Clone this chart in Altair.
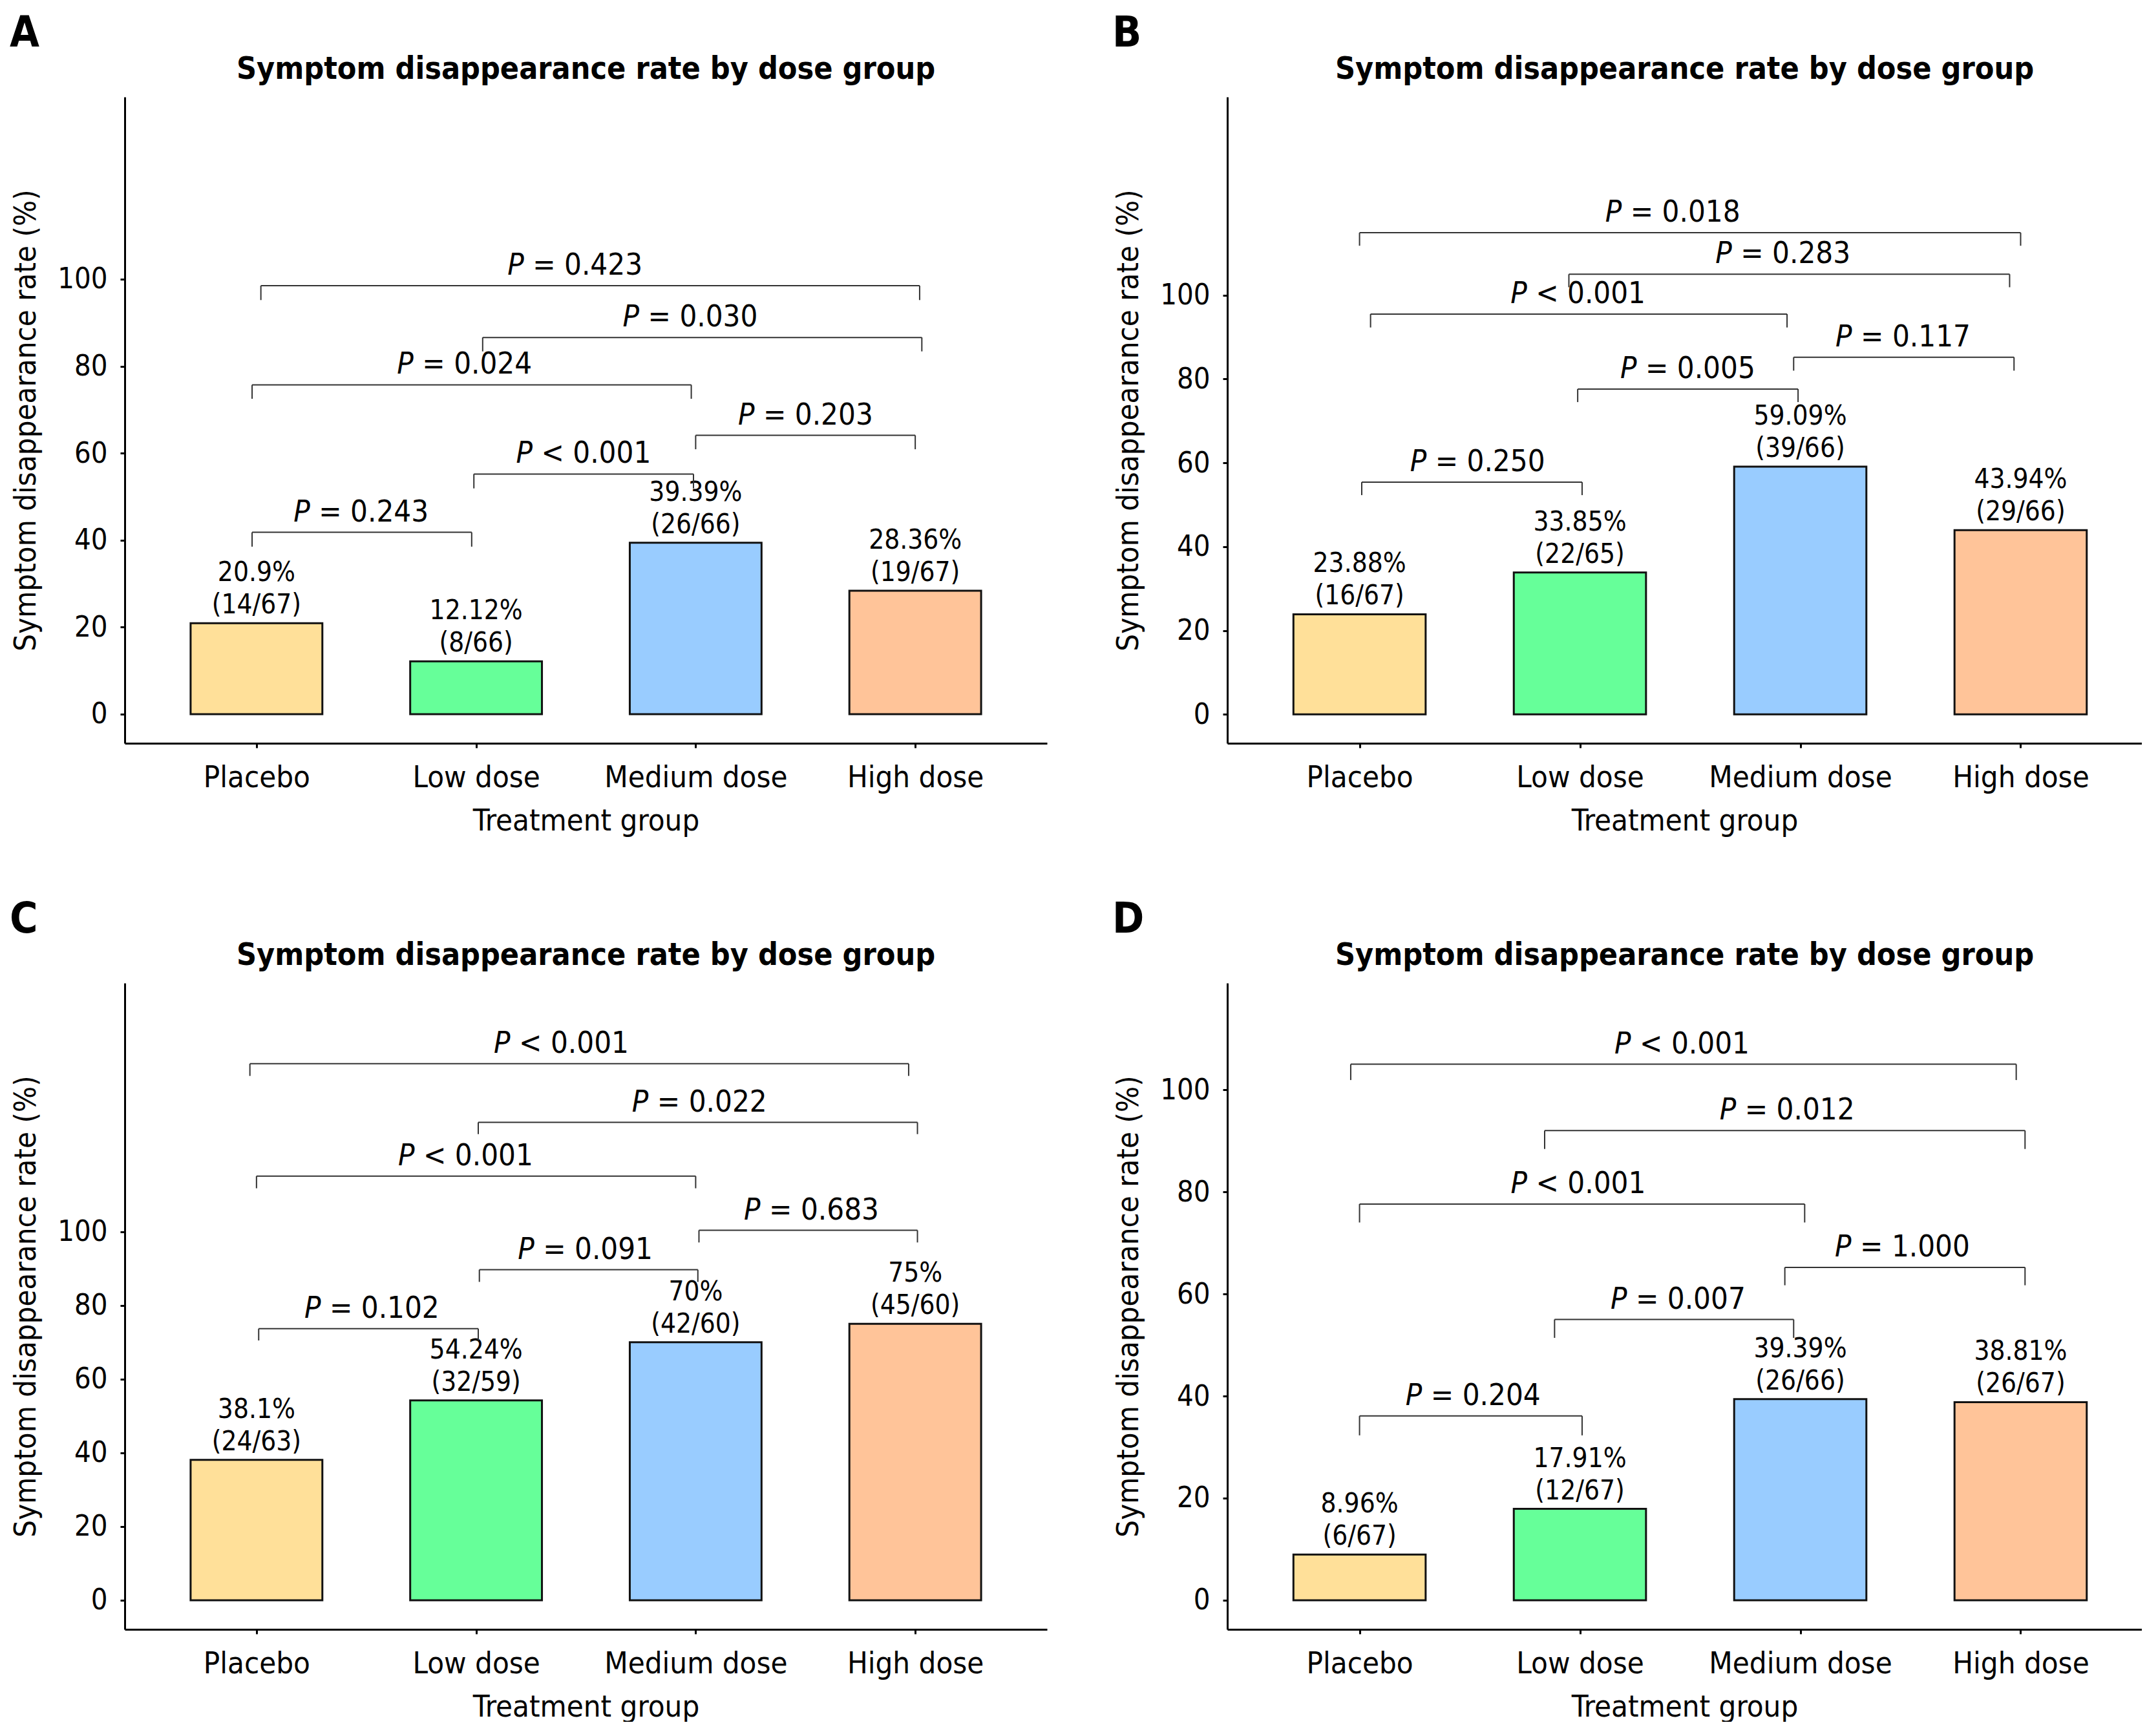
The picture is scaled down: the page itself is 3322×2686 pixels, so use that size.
import altair as alt
import pandas as pd

FONT = "DejaVu Sans Condensed, DejaVu Sans"

groups = ["Placebo", "Low dose", "Medium dose", "High dose"]
colors = ["#FFE099", "#66FF99", "#99CCFF", "#FFC499"]
title_text = "Symptom disappearance rate by dose group"
y_ticks = [0, 20, 40, 60, 80, 100]

# ---- Panel A ----
rate_a = [20.9, 12.12, 39.39, 28.36]
pct_a = ["20.9%", "12.12%", "39.39%", "28.36%"]
frac_a = ["(14/67)", "(8/66)", "(26/66)", "(19/67)"]
brx1_a = [-0.02, 0.99, 2.0, -0.02, 1.03, 0.02]
brx2_a = [0.98, 1.99, 3.0, 1.98, 3.03, 3.02]
bry_a = [41.8, 55.2, 64.1, 75.7, 86.6, 98.5]
brleg_a = [38.5, 51.9, 60.9, 72.5, 83.4, 95.2]
brtx_a = [0.475, 1.488, 2.499, 0.946, 1.974, 1.449]
brp_a = ["= 0.243", "< 0.001", "= 0.203", "= 0.024", "= 0.030", "= 0.423"]
ydom_a = [-6.7, 141.9]

# ---- Panel B ----
rate_b = [23.88, 33.85, 59.09, 43.94]
pct_b = ["23.88%", "33.85%", "59.09%", "43.94%"]
frac_b = ["(16/67)", "(22/65)", "(39/66)", "(29/66)"]
brx1_b = [0.01, 0.99, 1.97, 0.05, 0.95, 0.0]
brx2_b = [1.01, 1.99, 2.97, 1.94, 2.95, 3.0]
bry_b = [55.4, 77.6, 85.2, 95.5, 105.0, 114.9]
brleg_b = [52.3, 74.5, 82.0, 92.3, 101.9, 111.8]
brtx_b = [0.534, 1.488, 2.465, 0.99, 1.92, 1.42]
brp_b = ["= 0.250", "= 0.005", "= 0.117", "< 0.001", "= 0.283", "= 0.018"]
ydom_b = [-6.9, 147.3]

# ---- Panel C ----
rate_c = [38.1, 54.24, 70, 75]
pct_c = ["38.1%", "54.24%", "70%", "75%"]
frac_c = ["(24/63)", "(32/59)", "(42/60)", "(45/60)"]
brx1_c = [0.01, 1.015, 2.015, 0.0, 1.01, -0.03]
brx2_c = [1.01, 2.01, 3.01, 2.0, 3.01, 2.97]
bry_c = [73.7, 89.7, 100.4, 115.1, 129.7, 145.6]
brleg_c = [70.5, 86.4, 97.1, 111.8, 126.5, 142.3]
brtx_c = [0.524, 1.496, 2.526, 0.951, 2.016, 1.387]
brp_c = ["= 0.102", "= 0.091", "= 0.683", "< 0.001", "= 0.022", "< 0.001"]
ydom_c = [-7.9, 167.5]

# ---- Panel D ----
rate_d = [8.96, 17.91, 39.39, 38.81]
pct_d = ["8.96%", "17.91%", "39.39%", "38.81%"]
frac_d = ["(6/67)", "(12/67)", "(26/66)", "(26/67)"]
brx1_d = [0.0, 0.885, 1.93, 0.0, 0.84, -0.04]
brx2_d = [1.01, 1.97, 3.02, 2.02, 3.02, 2.98]
bry_d = [36.1, 55.0, 65.2, 77.6, 92.0, 105.0]
brleg_d = [32.3, 51.4, 61.7, 74.0, 88.4, 101.9]
brtx_d = [0.514, 1.444, 2.462, 0.991, 1.939, 1.462]
brp_d = ["= 0.204", "= 0.007", "= 1.000", "< 0.001", "= 0.012", "< 0.001"]
ydom_d = [-5.7, 120.9]

BAR_HALF = 0.3
HEIGHT = 1000


def panel(letter, rates, pcts, fracs, bx1, bx2, by, bleg, btx, bp, ydom, xmax, width):
    bars_df = pd.DataFrame({
        "pos": list(range(len(groups))),
        "group": groups,
        "rate": rates,
        "label": [f"{p}\n{f}" for p, f in zip(pcts, fracs)],
    })
    bars_df["left"] = bars_df["pos"] - BAR_HALF
    bars_df["right"] = bars_df["pos"] + BAR_HALF
    bars_df["zero"] = 0.0

    segs = []
    for x1, x2, y, leg in zip(bx1, bx2, by, bleg):
        segs.append({"xa": x1, "xb": x2, "ya": y, "yb": y})
        segs.append({"xa": x1, "xb": x1, "ya": y, "yb": leg})
        segs.append({"xa": x2, "xb": x2, "ya": y, "yb": leg})
    seg_df = pd.DataFrame(segs)

    ptxt_df = pd.DataFrame({
        "mid": btx,
        "y": by,
        "p": ["P"] * len(bp),
        "rest": bp,
    })

    xs = alt.Scale(domain=[-0.6, xmax], nice=False, zero=False)
    ys = alt.Scale(domain=ydom, nice=False, zero=False)
    label_expr = "[" + ",".join(f"'{g}'" for g in groups) + "][datum.value]"

    xaxis = alt.Axis(
        values=[0, 1, 2, 3], labelExpr=label_expr, title="Treatment group",
        grid=False, domainColor="black", domainWidth=3, tickColor="black",
        tickWidth=3, tickSize=7, labelFont=FONT, labelFontSize=47,
        labelColor="black", labelPadding=23, labelOverlap=False, labelFlush=False,
        labelLimit=1000,
        titleFont=FONT, titleFontSize=47, titleFontWeight="normal",
        titleColor="black", titlePadding=21, titleLimit=2000,
    )
    yaxis = alt.Axis(
        values=y_ticks, title="Symptom disappearance rate (%)", grid=False,
        domainColor="black", domainWidth=3, tickColor="black", tickWidth=3,
        tickSize=7, labelFont=FONT, labelFontSize=45, labelColor="black",
        labelPadding=20, labelOverlap=False, labelFlush=False, labelLimit=1000,
        titleFont=FONT, titleFontSize=47, titleFontWeight="normal",
        titleColor="black", titlePadding=24, titleLimit=2000,
    )

    bars = alt.Chart(bars_df).mark_rect(stroke="#111111", strokeWidth=3).encode(
        x=alt.X("left:Q", scale=xs, axis=xaxis),
        x2="right:Q",
        y=alt.Y("zero:Q", scale=ys, axis=yaxis),
        y2="rate:Q",
        color=alt.Color("group:N", scale=alt.Scale(domain=groups, range=colors), legend=None),
    )
    labels = alt.Chart(bars_df).mark_text(
        font=FONT, fontSize=42, lineBreak="\n", lineHeight=50,
        baseline="bottom", dy=-56, color="black",
    ).encode(x="pos:Q", y="rate:Q", text="label:N")

    rules = alt.Chart(seg_df).mark_rule(color="#333333", strokeWidth=2).encode(
        x="xa:Q", x2="xb:Q", y="ya:Q", y2="yb:Q"
    )
    ptext_p = alt.Chart(ptxt_df).mark_text(
        font=FONT, fontSize=47, fontStyle="italic", align="left",
        baseline="alphabetic", dx=-104, dy=-17, color="black",
    ).encode(x="mid:Q", y="y:Q", text="p:N")
    ptext_rest = alt.Chart(ptxt_df).mark_text(
        font=FONT, fontSize=47, align="left",
        baseline="alphabetic", dx=-65, dy=-17, color="black",
    ).encode(x="mid:Q", y="y:Q", text="rest:N")

    letter_mark = alt.Chart(pd.DataFrame({"t": [letter]})).mark_text(
        font=FONT, fontSize=66, fontWeight="bold", align="left",
        baseline="alphabetic", color="black",
    ).encode(x=alt.value(-178), y=alt.value(-78), text="t:N")
    title_mark = alt.Chart(pd.DataFrame({"t": [title_text]})).mark_text(
        font=FONT, fontSize=48, fontWeight="bold", align="center",
        baseline="alphabetic", color="black",
    ).encode(x=alt.value(width / 2), y=alt.value(-28), text="t:N")

    return alt.layer(
        bars, labels, rules, ptext_p, ptext_rest, letter_mark, title_mark
    ).properties(width=width, height=HEIGHT)


pa = panel("A", rate_a, pct_a, frac_a, brx1_a, brx2_a, bry_a, brleg_a, brtx_a, brp_a, ydom_a, 3.6, 1427)
pb = panel("B", rate_b, pct_b, frac_b, brx1_b, brx2_b, bry_b, brleg_b, brtx_b, brp_b, ydom_b, 3.55, 1415)
pc = panel("C", rate_c, pct_c, frac_c, brx1_c, brx2_c, bry_c, brleg_c, brtx_c, brp_c, ydom_c, 3.6, 1427)
pd_ = panel("D", rate_d, pct_d, frac_d, brx1_d, brx2_d, bry_d, brleg_d, brtx_d, brp_d, ydom_d, 3.55, 1415)

chart = alt.vconcat(
    alt.hconcat(pa, pb, spacing=101),
    alt.hconcat(pc, pd_, spacing=101),
    spacing=97,
).properties(
    padding={"left": 7, "top": 11, "right": 0, "bottom": 0},
    background="white",
).configure_view(strokeWidth=0)

chart.save("out.html", embed_options={"renderer": "svg", "actions": False})
